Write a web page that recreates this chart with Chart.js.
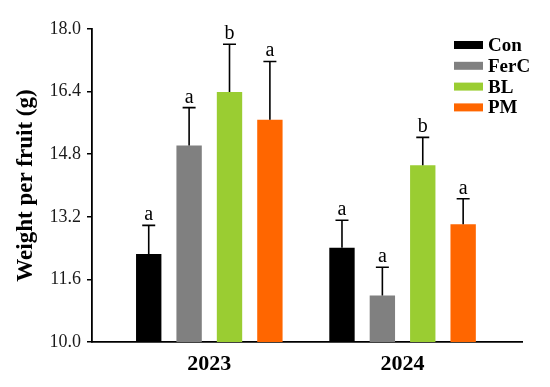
<!DOCTYPE html>
<html>
<head>
<meta charset="utf-8">
<title>Weight per fruit</title>
<script src="https://cdn.jsdelivr.net/npm/chart.js@4/dist/chart.umd.min.js"></script>
<style>
  html, body { margin: 0; padding: 0; background: #fff; }
</style>
</head>
<body>
<canvas id="barChart" width="550" height="387"></canvas>
<script>
// years on the x axis, treatments are the series
var years = ["2023", "2024"];
var treatments = ["Con", "FerC", "BL", "PM"];
var colors = ["#000000", "#808080", "#9ACD32", "#FF6600"];

var conMean = [12.25, 12.41];
var ferMean = [15.02, 11.19];
var blMean = [16.39, 14.52];
var pmMean = [15.68, 13.01];

var conErr = [0.73, 0.70];
var ferErr = [0.97, 0.72];
var blErr = [1.22, 0.71];
var pmErr = [1.49, 0.65];

var conSig = ["a", "a"];
var ferSig = ["a", "a"];
var blSig = ["b", "b"];
var pmSig = ["a", "a"];

var yTicks = [10.0, 11.6, 13.2, 14.8, 16.4, 18.0];

var means = [conMean, ferMean, blMean, pmMean];
var errs = [conErr, ferErr, blErr, pmErr];
var sigs = [conSig, ferSig, blSig, pmSig];

var serif = "'Liberation Serif', 'Times New Roman', serif";

var datasets = treatments.map(function (name, i) {
	return {
		label: name,
		backgroundColor: colors[i],
		borderWidth: 0,
		data: means[i].map(function (v, j) { return { x: j, y: v }; }),
		categoryPercentage: 0.836,
		barPercentage: 0.628
	};
});

// error bars + significance letters
var errorBars = {
	id: "errorBars",
	afterDatasetsDraw: function (chart) {
		var ctx = chart.ctx;
		var yScale = chart.scales.y;
		ctx.save();
		ctx.strokeStyle = "#000";
		ctx.fillStyle = "#000";
		ctx.lineWidth = 1.6;
		ctx.font = "20px " + serif;
		ctx.textAlign = "center";
		ctx.textBaseline = "alphabetic";
		chart.data.datasets.forEach(function (ds, i) {
			var meta = chart.getDatasetMeta(i);
			meta.data.forEach(function (bar, j) {
				var top = yScale.getPixelForValue(means[i][j] + errs[i][j]);
				ctx.beginPath();
				ctx.moveTo(bar.x, bar.y);
				ctx.lineTo(bar.x, top);
				ctx.moveTo(bar.x - 6.5, top);
				ctx.lineTo(bar.x + 6.5, top);
				ctx.stroke();
				ctx.fillText(sigs[i][j], bar.x, top - 5);
			});
		});
		ctx.restore();
	}
};

// legend drawn inside the plot, top right
var innerLegend = {
	id: "innerLegend",
	afterDraw: function (chart) {
		var ctx = chart.ctx;
		var area = chart.chartArea;
		var x0 = area.right - 68;
		var y0 = area.top + 16;
		ctx.save();
		ctx.font = "bold 19px " + serif;
		ctx.textBaseline = "middle";
		ctx.textAlign = "left";
		chart.data.datasets.forEach(function (ds, i) {
			var cy = y0 + i * 20.8;
			ctx.fillStyle = ds.backgroundColor;
			ctx.fillRect(x0, cy - 4, 29, 8);
			ctx.fillStyle = "#000";
			ctx.fillText(ds.label, x0 + 34, cy + 1);
		});
		ctx.restore();
	}
};

new Chart(document.getElementById("barChart").getContext("2d"), {
	type: "bar",
	data: { datasets: datasets },
	options: {
		responsive: false,
		animation: false,
		devicePixelRatio: 1,
		layout: { padding: { top: 29, right: 28, left: 0, bottom: 0 } },
		plugins: {
			legend: { display: false },
			tooltip: { enabled: false }
		},
		scales: {
			x: {
				type: "linear",
				bounds: "data",
				offset: false,
				min: -0.607,
				max: 1.618,
				afterBuildTicks: function (s) {
					s.ticks = years.map(function (y, i) { return { value: i }; });
				},
				grid: { display: false, drawTicks: false, offset: false },
				border: { display: true, color: "#000", width: 1.8 },
				ticks: {
					padding: 9,
					color: "#000",
					font: { family: serif, size: 22, weight: "bold" },
					callback: function (v) { return years[Math.round(v)] || ""; }
				},
				afterFit: function (s) { s.height = 45; }
			},
			y: {
				min: yTicks[0],
				max: yTicks[yTicks.length - 1],
				afterBuildTicks: function (s) {
					s.ticks = yTicks.map(function (v) { return { value: v }; });
				},
				grid: {
					drawOnChartArea: false,
					drawTicks: true,
					tickLength: 5,
					color: "#000",
					lineWidth: 1.5
				},
				border: { display: true, color: "#000", width: 1.8 },
				ticks: {
					padding: 6,
					color: "#1a1a1a",
					font: { family: serif, size: 18 },
					callback: function (v) { return Number(v).toFixed(1); }
				},
				title: {
					display: true,
					text: "Weight per fruit (g)",
					color: "#000",
					font: { family: serif, size: 23, weight: "bold" },
					padding: { top: 12, bottom: 0 }
				},
				afterFit: function (s) { s.width = 92; }
			}
		}
	},
	plugins: [errorBars, innerLegend]
});
</script>
</body>
</html>
